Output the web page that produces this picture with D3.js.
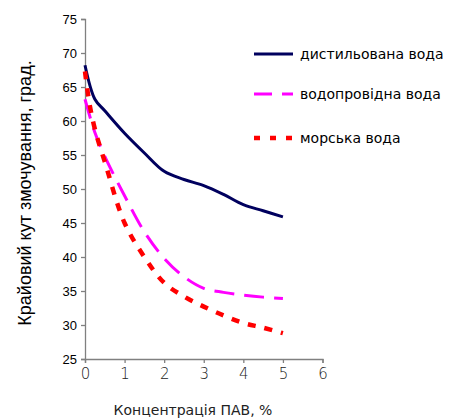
<!DOCTYPE html>
<html><head><meta charset="utf-8">
<script src="https://cdn.jsdelivr.net/npm/d3@7"></script>
<style>body{margin:0;background:#fff}svg{display:block}</style>
</head><body>
<svg id="c" width="449" height="419"></svg>
<script>
const xTicks = [0,1,2,3,4,5,6];
const yTicks = [25,30,35,40,45,50,55,60,65,70,75];
const seriesNames = ["дистильована вода","водопровідна вода","морська вода"];
const distX = [0,0.25,0.5,1,1.5,2,2.5,3,3.5,4,4.5,5];
const distY = [68.2,63.2,61.5,58.2,55.3,52.6,51.4,50.5,49.2,47.7,46.8,45.9];
const tapX = [0,0.25,0.5,1,1.5,2,2.5,3,3.5,4,4.5,5];
const tapY = [63.2,58.3,54.8,49,43.7,39.8,37.1,35.4,34.8,34.4,34.1,33.9];
const seaX = [0,0.1,0.25,0.5,1,1.5,2,2.5,3,3.5,4,4.5,5];
const seaY = [67.3,63,58.8,54,45,40,36.2,34.2,32.7,31.4,30.3,29.6,28.8];

const svg = d3.select("#c");
const x = d3.scaleLinear().domain([0,6]).range([85,322.5]);
const y = d3.scaleLinear().domain([25,75]).range([359,19]);
const axisCol = "#808080";

const gy = svg.append("g").attr("transform","translate(85,0)")
  .call(d3.axisLeft(y).tickValues(yTicks).tickSize(4).tickPadding(4));
gy.selectAll("text").style("font-family","Arial, 'Liberation Sans', sans-serif").style("font-size","13px").attr("fill","#000");
const gx = svg.append("g").attr("transform","translate(0,359)")
  .call(d3.axisBottom(x).tickValues(xTicks).tickFormat(d3.format("d")).tickSize(4).tickPadding(5));
gx.selectAll("text").style("font-family","'DejaVu Sans', sans-serif").style("font-size","15px").style("font-weight","200").attr("fill","#222");
svg.selectAll(".domain, .tick line").attr("stroke",axisCol).attr("stroke-width",1.3);

svg.append("text").attr("x",193).attr("y",415).attr("text-anchor","middle")
  .style("font-family","'DejaVu Sans', sans-serif").style("font-size","14px").attr("fill","#222")
  .text("Концентрація ПАВ, %");
svg.append("text").attr("transform","translate(31,193) rotate(-90)").attr("text-anchor","middle")
  .style("font-family","Arial, 'Liberation Sans', sans-serif").style("font-size","18px").attr("fill","#000")
  .text("Крайовий кут змочування, град.");

const line = d3.line().x(d=>x(d[0])).y(d=>y(d[1])).curve(d3.curveCatmullRom.alpha(0.5));
const series = [
  {xs:distX, ys:distY, color:"#00005e", w:3, dash:null},
  {xs:tapX, ys:tapY, color:"#ff00ff", w:3, dash:"20,10"},
  {xs:seaX, ys:seaY, color:"#ff0000", w:4.5, dash:"8,9"}
];
series.forEach(s=>{
  const pts = s.xs.map((v,i)=>[v,s.ys[i]]);
  svg.append("path").attr("d",line(pts)).attr("fill","none")
    .attr("stroke",s.color).attr("stroke-width",s.w)
    .attr("stroke-dasharray",s.dash);
});

const legY = [54,94,138];
const legDash = [null,"18,10","6,10"];
series.forEach((s,i)=>{
  svg.append("line").attr("x1",254).attr("x2",293).attr("y1",legY[i]).attr("y2",legY[i])
    .attr("stroke",s.color).attr("stroke-width",s.w).attr("stroke-dasharray",legDash[i]);
  svg.append("text").attr("x",300).attr("y",legY[i]+5)
    .style("font-family","'DejaVu Sans', sans-serif").style("font-size","14px").attr("fill","#000")
    .text(seriesNames[i]);
});
</script>
</body></html>
